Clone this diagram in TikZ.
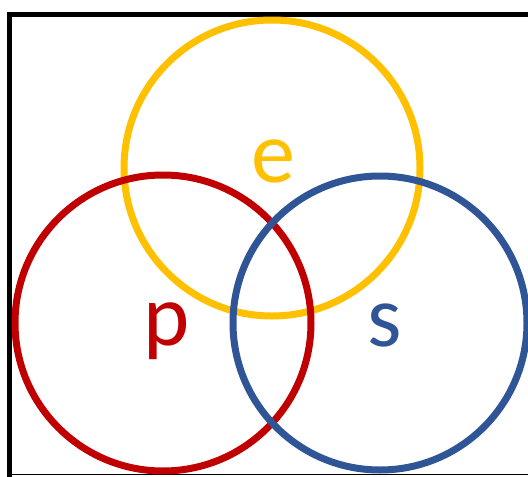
\documentclass[tikz,border=0pt]{standalone}
\usepackage{fontspec}
\setmainfont{Carlito}
\definecolor{setyellow}{HTML}{FFC000}
\definecolor{setred}{HTML}{C00000}
\definecolor{setblue}{HTML}{2F5597}
\tikzset{
  setring/.style={draw,circle,line width=7pt,minimum size=296pt,inner sep=0pt},
  setlbl/.style={anchor=base,inner sep=0pt,font=\fontsize{88}{100}\selectfont}
}
\begin{document}
\begin{tikzpicture}[x=1pt,y=-1pt]
\useasboundingbox (0,0) rectangle (528,477);
\draw[line width=5pt] (9.5,477) -- (9.5,14.5) -- (540,14.5);
\draw[line width=1.5pt] (9.5,474.5) -- (540,474.5);
\node[setring,setyellow] (e) at (272,168) {};
\node[setring,setred] (p) at (163,323) {};
\node[setring,setblue,minimum size=294pt] (s) at (380,323) {};
\node[setlbl,text=setyellow] (elbl) at (273,182) {e};
\node[setlbl,text=setred] (plbl) at (167,345) {p};
\node[setlbl,text=setblue] (slbl) at (385,346) {s};
\end{tikzpicture}
\end{document}
